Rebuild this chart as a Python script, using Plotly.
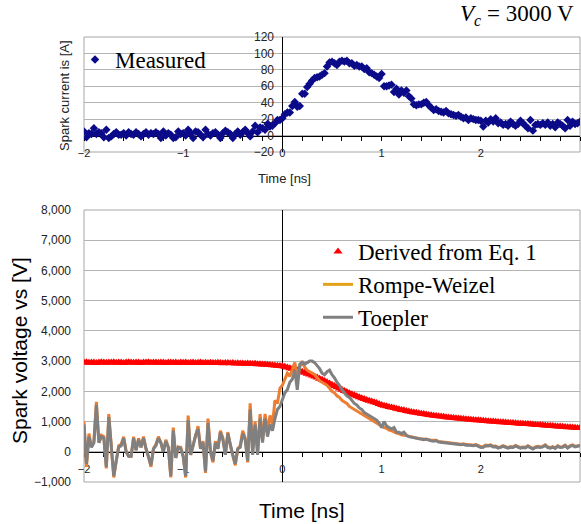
import plotly.graph_objects as go

# ---------------- data ----------------
TIME_START = -2.0      # ns, first sample
TIME_STEP = 0.025      # ns, sample spacing

measured_current = [  # A
    5, -2, 3, 2, 9, 2, 4, 3, -2, 7,
    -3, -1, 2, 4, 1, 1, 3, 0, 4, 2,
    1, 4, 2, -1, 2, 4, 1, 3, 2, 4,
    2, -3, 5, 0, 3, 1, -3, -2, 5, 2,
    3, 0, 7, 3, -3, 5, 4, 1, -2, 7,
    2, 0, 3, 4, 1, -3, 3, 6, 4, 2,
    -3, 2, 5, 1, 4, 7, 3, -1, 5, 12,
    4, 10, 9, 7, 14, 11, 12, 15, 19, 19,
    21, 26, 28, 28, 36, 41, 35, 36, 51, 51,
    59, 63, 67, 70, 71, 72, 74, 76, 84, 89,
    90, 88, 86, 90, 91, 90, 91, 88, 88, 85,
    86, 84, 84, 81, 82, 77, 76, 74, 72, 70,
    75, 60, 60, 61, 62, 53, 57, 50, 55, 52,
    55, 48, 45, 38, 37, 38, 38, 40, 41, 37,
    34, 31, 32, 30, 29, 28, 30, 27, 26, 25,
    24, 25, 23, 21, 22, 19, 21, 20, 19, 19,
    18, 11, 18, 16, 20, 17, 21, 15, 16, 13,
    14, 12, 17, 14, 12, 14, 18, 15, 12, 9,
    19, 6, 13, 14, 13, 15, 13, 16, 12, 14,
    10, 16, 14, 12, 9, 19, 12, 17, 14, 15,
    17,
]

derived_voltage = [  # V, derived from Eq. 1
    2950, 2960, 2945, 2955, 2950, 2940, 2955, 2960, 2950, 2945,
    2955, 2950, 2960, 2945, 2950, 2955, 2940, 2950, 2960, 2950,
    2945, 2955, 2950, 2940, 2955, 2950, 2960, 2945, 2950, 2955,
    2945, 2950, 2955, 2940, 2950, 2955, 2945, 2950, 2940, 2950,
    2945, 2950, 2940, 2945, 2950, 2935, 2945, 2950, 2940, 2945,
    2935, 2945, 2940, 2935, 2945, 2940, 2930, 2940, 2935, 2930,
    2935, 2925, 2930, 2920, 2925, 2915, 2920, 2910, 2905, 2910,
    2900, 2895, 2890, 2885, 2880, 2870, 2865, 2855, 2845, 2835,
    2830, 2810, 2790, 2765, 2745, 2720, 2700, 2670, 2645, 2615,
    2585, 2555, 2520, 2490, 2455, 2420, 2385, 2345, 2300, 2260,
    2215, 2175, 2135, 2090, 2050, 2010, 1975, 1940, 1900, 1870,
    1835, 1805, 1775, 1745, 1715, 1690, 1660, 1635, 1610, 1585,
    1545, 1525, 1505, 1485, 1465, 1445, 1425, 1405, 1385, 1370,
    1350, 1335, 1320, 1300, 1290, 1275, 1260, 1250, 1235, 1220,
    1210, 1195, 1185, 1175, 1165, 1155, 1145, 1135, 1125, 1115,
    1110, 1100, 1090, 1085, 1075, 1070, 1060, 1055, 1045, 1040,
    1035, 1025, 1020, 1010, 1005, 1000, 990, 985, 980, 975,
    965, 960, 955, 950, 945, 935, 930, 925, 920, 915,
    910, 905, 895, 890, 885, 880, 870, 865, 860, 855,
    845, 840, 835, 830, 820, 815, 810, 805, 795, 790,
    785,
]

rompe_weizel_voltage = [  # V
    1000, -500, 600, 150, 350, 1650, 300, 550, 500, -550,
    1250, 100, -850, -300, 200, 250, 500, 0, -150, -150,
    500, 50, 450, 150, 500, 100, -150, -500, 100, 250,
    500, 300, 0, 400, 150, -850, 800, -200, 150, 150,
    -150, -850, 1200, -100, 250, 600, 850, 100, 350, -700,
    1100, 0, -350, 350, 100, 700, 450, -100, 650, 200,
    -100, -450, 100, 200, 700, 450, -350, 1600, 0, 1000,
    0, 1250, 400, 1250, 700, 1200, 900, 1700, 1600, 2100,
    2200, 2400, 2600, 2500, 2700, 2950, 2500, 2800, 3000, 2800,
    2700, 2650, 2600, 2550, 2450, 2350, 2300, 2250, 2200, 2100,
    2000, 1950, 1850, 1800, 1700, 1650, 1600, 1500, 1450, 1400,
    1350, 1300, 1250, 1200, 1150, 1100, 1050, 1000, 950, 900,
    850, 800, 780, 720, 700, 650, 620, 600, 560, 550,
    530, 500, 480, 470, 450, 440, 430, 420, 430, 400,
    380, 370, 380, 340, 330, 320, 310, 290, 300, 270,
    280, 260, 250, 260, 240, 230, 230, 220, 240, 200,
    170, 170, 220, 210, 230, 180, 190, 150, 160, 200,
    170, 140, 170, 160, 210, 170, 140, 160, 150, 200,
    140, 110, 160, 180, 160, 180, 230, 160, 140, 170,
    130, 200, 160, 170, 220, 140, 200, 230, 180, 210,
    220,
]

toepler_voltage = [  # V
    900, -400, 500, 150, 300, 1550, 300, 500, 450, -500,
    1150, 100, -800, -300, 150, 200, 450, 0, -150, -150,
    450, 50, 400, 150, 450, 100, -150, -450, 100, 200,
    450, 300, 0, 350, 150, -800, 700, -200, 150, 100,
    -150, -800, 1050, -100, 200, 550, 750, 100, 300, -650,
    950, 0, -300, 300, 100, 650, 400, -100, 600, 200,
    -100, -400, 100, 150, 600, 400, -300, 1400, -100, 900,
    -100, 1100, 300, 1100, 500, 900, 700, 1100, 1400, 1500,
    1700, 1950, 2050, 2300, 2400, 2700, 2050, 2900, 2950, 2900,
    2950, 3000, 3000, 2950, 2850, 2750, 2600, 2550, 2650, 2700,
    2550, 2450, 2300, 2200, 2050, 1950, 1850, 1800, 1700, 1600,
    1550, 1450, 1400, 1300, 1250, 1200, 1150, 1100, 1050, 950,
    800, 1000, 850, 800, 750, 800, 650, 650, 600, 650,
    550, 500, 480, 480, 450, 430, 420, 400, 420, 380,
    360, 350, 370, 320, 310, 300, 300, 270, 280, 250,
    260, 240, 230, 250, 220, 220, 210, 200, 220, 180,
    140, 150, 200, 190, 210, 160, 170, 120, 140, 180,
    150, 120, 150, 140, 190, 150, 120, 140, 130, 180,
    120, 90, 140, 160, 140, 160, 210, 140, 120, 150,
    110, 180, 140, 150, 200, 120, 180, 210, 160, 190,
    200,
]

time_ticks = [-2, -1, 0, 1, 2, 3]
current_ticks = [-20, 0, 20, 40, 60, 80, 100, 120]
voltage_ticks = [-1000, 0, 1000, 2000, 3000, 4000, 5000, 6000, 7000, 8000]

# ---------------- layout geometry (pixels) ----------------
W, H = 581, 524
PL, PR = 84, 580
TOP_T, TOP_B = 37, 152
BOT_T, BOT_B = 210, 482

xdom = [PL / W, PR / W]
ydom_top = [1 - TOP_B / H, 1 - TOP_T / H]
ydom_bot = [1 - BOT_B / H, 1 - BOT_T / H]
XR = [-2, 3]
YR_TOP = [-20, 120]
YR_BOT = [-1000, 8000]

x_zero_pos = xdom[0] + (0 - XR[0]) / (XR[1] - XR[0]) * (xdom[1] - xdom[0])
y_zero_top = ydom_top[0] + (0 - YR_TOP[0]) / (YR_TOP[1] - YR_TOP[0]) * (ydom_top[1] - ydom_top[0])
y_zero_bot = ydom_bot[0] + (0 - YR_BOT[0]) / (YR_BOT[1] - YR_BOT[0]) * (ydom_bot[1] - ydom_bot[0])

SANS = "Liberation Sans"
SERIF = "Liberation Serif"
GRID = "#b4b4b4"
FRAME = "#a6a6a6"

fig = go.Figure()

fig.add_trace(go.Scatter(
    x0=TIME_START, dx=TIME_STEP, y=measured_current,
    mode="markers", name="Measured",
    marker=dict(symbol="diamond", size=6.5, color="#0b0b8a"),
    xaxis="x", yaxis="y", legend="legend2",
))

fig.add_trace(go.Scatter(
    x0=TIME_START, dx=TIME_STEP, y=derived_voltage,
    mode="markers", name="Derived from Eq. 1",
    marker=dict(symbol="triangle-up", size=8, color="#ff0000"),
    xaxis="x2", yaxis="y2", legend="legend",
))
fig.add_trace(go.Scatter(
    x0=TIME_START, dx=TIME_STEP, y=rompe_weizel_voltage,
    mode="lines", name="Rompe-Weizel", showlegend=False,
    line=dict(color="#ED7D31", width=3),
    xaxis="x2", yaxis="y2",
))
fig.add_trace(go.Scatter(
    x=[None], y=[None],
    mode="lines", name="Rompe-Weizel",
    line=dict(color="#E3A21A", width=3),
    xaxis="x2", yaxis="y2", legend="legend",
))
fig.add_trace(go.Scatter(
    x0=TIME_START, dx=TIME_STEP, y=toepler_voltage,
    mode="lines", name="Toepler",
    line=dict(color="#808080", width=3),
    xaxis="x2", yaxis="y2", legend="legend",
))

minor = dict(dtick=0.2, ticks="outside", ticklen=4, tickcolor="black", showgrid=False)

fig.update_layout(
    template="none",
    width=W, height=H, autosize=False,
    margin=dict(l=0, r=0, t=0, b=0, pad=0),
    paper_bgcolor="white", plot_bgcolor="white",
    xaxis=dict(
        domain=xdom, range=XR, anchor="free", position=y_zero_top, automargin=False,
        showline=True, linecolor="black", linewidth=1, layer="below traces",
        showgrid=False, zeroline=False,
        tickvals=time_ticks, ticks="outside", ticklen=4, tickcolor="black",
        minor=minor, ticklabelstandoff=3,
        tickfont=dict(family=SANS, size=11, color="#222"),
    ),
    yaxis=dict(
        domain=ydom_top, range=YR_TOP, anchor="free", position=x_zero_pos, automargin=False,
        showline=True, linecolor="black", linewidth=1, layer="below traces",
        showgrid=True, gridcolor=GRID, gridwidth=1, zeroline=False,
        tickvals=current_ticks, ticks="", ticklabelstandoff=6,
        tickfont=dict(family=SANS, size=12, color="#222"),
    ),
    xaxis2=dict(
        domain=xdom, range=XR, anchor="free", position=y_zero_bot, automargin=False,
        showline=True, linecolor="black", linewidth=1, layer="below traces",
        showgrid=False, zeroline=True, zerolinecolor="black", zerolinewidth=1,
        tickvals=time_ticks, ticks="outside", ticklen=4, tickcolor="black",
        minor=minor, ticklabelstandoff=3,
        tickfont=dict(family=SANS, size=11, color="#222"),
    ),
    yaxis2=dict(
        domain=ydom_bot, range=YR_BOT, anchor="x2", automargin=False,
        showline=False, showgrid=True, gridcolor=GRID, gridwidth=1, zeroline=False,
        tickvals=voltage_ticks, tickformat=",", ticks="", ticklabelstandoff=12,
        tickfont=dict(family=SANS, size=12, color="#222"),
    ),
    legend=dict(
        x=318 / W, y=1 - 230 / H, xanchor="left", yanchor="top",
        font=dict(family=SERIF, size=23, color="black"),
        bgcolor="rgba(0,0,0,0)", borderwidth=0, tracegroupgap=0,
    ),
    legend2=dict(
        x=75 / W, y=1 - 38 / H, xanchor="left", yanchor="top",
        font=dict(family=SERIF, size=23, color="black"),
        bgcolor="rgba(0,0,0,0)", borderwidth=0,
    ),
    showlegend=True,
    shapes=[
        dict(type="rect", xref="x domain", yref="y domain", x0=0, x1=1, y0=0, y1=1,
             line=dict(color=FRAME, width=1), layer="below"),
        dict(type="rect", xref="x2 domain", yref="y2 domain", x0=0, x1=1, y0=0, y1=1,
             line=dict(color=FRAME, width=1), layer="below"),
    ],
    annotations=[
        dict(text="<i>V</i><sub><i>c</i></sub> = 3000 V", x=576 / W, y=1 - 15 / H,
             xref="paper", yref="paper", xanchor="right", yanchor="middle",
             showarrow=False, font=dict(family=SERIF, size=23, color="black")),
        dict(text="Spark current is [A]", x=65 / W, y=1 - 96 / H, textangle=-90,
             xref="paper", yref="paper", xanchor="center", yanchor="middle",
             showarrow=False, font=dict(family=SANS, size=13, color="#222")),
        dict(text="Time [ns]", x=284 / W, y=1 - 178 / H,
             xref="paper", yref="paper", xanchor="center", yanchor="middle",
             showarrow=False, font=dict(family=SANS, size=13, color="#222")),
        dict(text="Spark voltage vs [V]", x=19 / W, y=1 - 351 / H, textangle=-90,
             xref="paper", yref="paper", xanchor="center", yanchor="middle",
             showarrow=False, font=dict(family=SANS, size=21, color="black")),
        dict(text="Time [ns]", x=302 / W, y=1 - 510 / H,
             xref="paper", yref="paper", xanchor="center", yanchor="middle",
             showarrow=False, font=dict(family=SANS, size=21, color="black")),
    ],
)

fig.write_html("out.html", config={"displayModeBar": False},
               post_script="document.body.style.margin='0px';")
